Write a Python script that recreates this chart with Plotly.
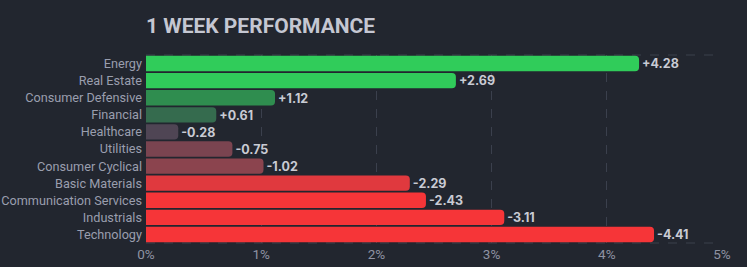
import plotly.graph_objects as go

sectors = ["Energy", "Real Estate", "Consumer Defensive", "Financial", "Healthcare",
           "Utilities", "Consumer Cyclical", "Basic Materials", "Communication Services",
           "Industrials", "Technology"]
changes = [4.28, 2.69, 1.12, 0.61, -0.28, -0.75, -1.02, -2.29, -2.43, -3.11, -4.41]
colors = ["#30cc5a", "#30cc5a", "#2f8d4f", "#356b4e", "#4f4554",
          "#7a4450", "#8b444e", "#e0393e", "#f63538", "#f63538", "#f63538"]
x_ticks = [0, 1, 2, 3, 4, 5]
x_tick_labels = ["0%", "1%", "2%", "3%", "4%", "5%"]

labels = [f"{v:+.2f}" for v in changes]

fig = go.Figure(go.Bar(
    x=[abs(v) for v in changes],
    y=sectors,
    orientation="h",
    marker=dict(color=colors, line=dict(width=0)),
    text=labels,
    textposition="outside",
    textfont=dict(family="Inter", size=13, color="#c9cbd4", weight="bold"),
    cliponaxis=False,
))

bg = "#22262f"
grid = "#3b404d"
fig.update_layout(
    width=747, height=267,
    paper_bgcolor=bg, plot_bgcolor=bg,
    margin=dict(l=146, r=25, t=55, b=24),
    bargap=0.1,
    barcornerradius=4,
    showlegend=False,
    title=dict(text="<b>1 WEEK PERFORMANCE</b>", x=146 / 747, xanchor="left",
               y=1 - 26 / 267, yanchor="middle",
               font=dict(family="Roboto", size=21, color="#c5c7d2")),
    xaxis=dict(range=[0, 5], tickvals=x_ticks, ticktext=x_tick_labels,
               showgrid=True, gridcolor=grid, griddash="dash", gridwidth=1,
               zeroline=False, showline=False, ticks="", automargin=False,
               ticklabelstandoff=1,
               tickfont=dict(family="Roboto", size=13.5, color="#8f93a3")),
    yaxis=dict(autorange="reversed", showgrid=False, zeroline=False, ticks="",
               ticklabelstandoff=3, automargin=False,
               tickfont=dict(family="Roboto", size=12.7, color="#9a9eae")),
    shapes=[
        dict(type="line", xref="paper", yref="paper", x0=0, x1=1, y0=1, y1=1,
             line=dict(color=grid, width=1, dash="dash"), layer="below"),
        dict(type="line", xref="paper", yref="paper", x0=0, x1=1, y0=0, y1=0,
             line=dict(color=grid, width=1, dash="dash"), layer="below"),
    ],
)

fig.write_html("out.html")
